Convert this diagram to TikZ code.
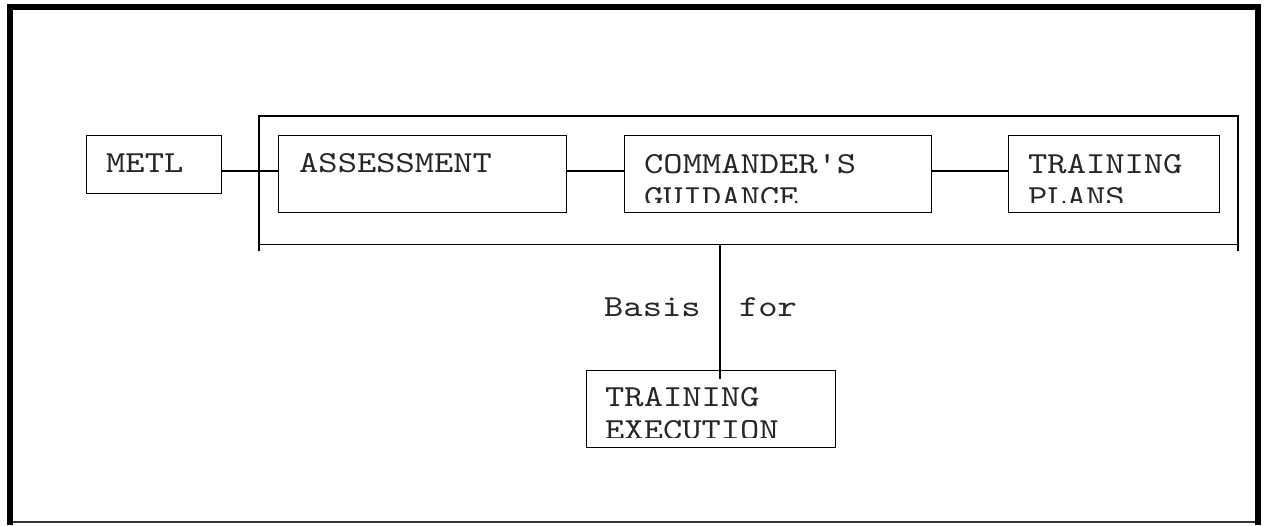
\documentclass[tikz,border=0pt]{standalone}
\usepackage{fontspec}
\newfontfamily\mono{lmmono10-regular.otf}[FakeStretch=1.2]
\begin{document}
\begin{tikzpicture}[x=1pt,y=-1pt,
  box/.style={draw, line width=1.4pt, inner sep=0pt, anchor=north west},
  conn/.style={line width=1.4pt},
  txt/.style={font=\mono\fontsize{30.6}{33}\selectfont, inner sep=0pt, anchor=base west, text=black!85},
  bar/.style={fill=black, draw=none}]
\useasboundingbox (0,0) rectangle (1264,525);
% outer frame
\fill[bar] (7,4) rectangle (1261,10);
\fill[bar] (7,4) rectangle (13,525);
\fill[bar] (1255,4) rectangle (1261,525);
\draw[line width=1.2pt, black!80] (13,522) -- (1255,522);
% boxes
\node[box, minimum width=135pt, minimum height=58pt] (metl) at (86,135) {};
\node[box, minimum width=288pt, minimum height=77pt] (assess) at (278,135) {};
\node[box, minimum width=307pt, minimum height=77pt] (cmd) at (624,135) {};
\node[box, minimum width=211pt, minimum height=77pt] (plans) at (1008,135) {};
\node[box, minimum width=249pt, minimum height=77pt] (exec) at (586,370) {};
% group bracket
\coordinate (gtl) at (259,116);
\coordinate (gtr) at (1238,116);
\coordinate (gbl) at (259,251);
\coordinate (gbr) at (1238,251);
\coordinate (gll) at (259,244.5);
\coordinate (grr) at (1238,244.5);
\coordinate (tap) at (720,244.5);
\coordinate (lvl) at (0,171);
\draw[conn] (gbl) -- (gtl) -- (gtr) -- (gbr);
\draw[conn] (gll) -- (grr);
% connectors
\draw[conn] (metl.east |- lvl) -- (assess.west |- lvl);
\draw[conn] (assess.east |- lvl) -- (cmd.west |- lvl);
\draw[conn] (cmd.east |- lvl) -- (plans.west |- lvl);
\coordinate (tapend) at (720,379);
\draw[conn] (tap) -- (tapend);
% texts
\node[txt] (tmetl) at (106,172.7) {METL};
\node[txt] (tassess) at (299,172.7) {ASSESSMENT};
\begin{scope}
\clip (cmd.north west) rectangle ([yshift=11pt]cmd.south east);
\node[txt] (tcmd) at (644,173.3) {\begin{tabular}[t]{@{}l@{}}COMMANDER'S\\GUIDANCE\end{tabular}};
\end{scope}
\begin{scope}
\clip (plans.north west) rectangle ([yshift=11pt]plans.south east);
\node[txt] (tplans) at (1028,173) {\begin{tabular}[t]{@{}l@{}}TRAINING\\PLANS\end{tabular}};
\end{scope}
\begin{scope}
\clip (exec.north west) rectangle ([yshift=11pt]exec.south east);
\node[txt] (texec) at (605,406.7) {\begin{tabular}[t]{@{}l@{}}TRAINING\\EXECUTION\end{tabular}};
\end{scope}
\node[txt] (basis) at (604,316) {Basis\ \ for};
\end{tikzpicture}
\end{document}
